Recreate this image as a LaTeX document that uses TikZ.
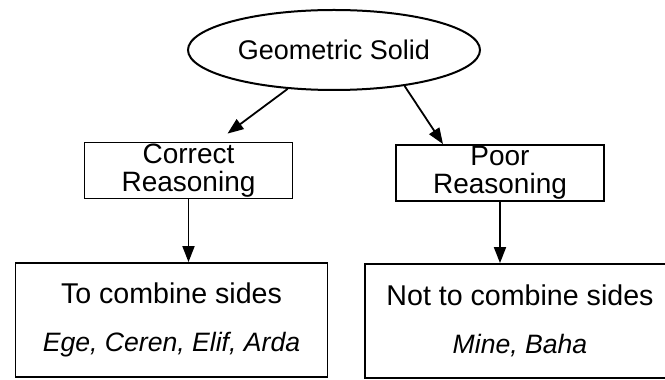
\documentclass[tikz,border=0pt]{standalone}
\usepackage{fontspec}
\setmainfont{Liberation Sans}
\usetikzlibrary{arrows.meta,positioning,shapes.geometric}
\tikzset{
  topic/.style={
    draw, ellipse, line width=1pt, inner sep=0pt,
    minimum width=146pt, minimum height=40pt,
    font=\fontsize{13.5}{14}\selectfont
  },
  judgement/.style={
    draw, rectangle, line width=.9pt, inner sep=0pt,
    minimum width=104pt, minimum height=28pt, align=center,
    font=\fontsize{14}{14}\selectfont
  },
  outcome/.style={
    draw, rectangle, line width=.9pt, inner sep=0pt,
    minimum width=156pt, minimum height=57pt, align=center,
    font=\fontsize{14.3}{24}\selectfont
  },
  flow/.style={-{Triangle[length=8pt,width=6pt]}, line width=.9pt}
}

\begin{document}
\begin{tikzpicture}[x=.5pt,y=.5pt]
  \useasboundingbox (0,0) rectangle (665,380);
  % Root
  \node[topic] (geo) at (334,330) {Geometric Solid};

  % Kind of reasoning
  \node[judgement] (cr) at (188.5,209.5) {Correct\\Reasoning};
  \node[judgement] (pr) at (500,207) {Poor\\Reasoning};

  % What the students did
  \node[outcome] (tc) at (171.5,60)
    {To combine sides\\{\fontsize{13.3}{14}\selectfont\itshape Ege, Ceren, Elif, Arda}};
  \node[outcome, minimum width=170pt] (nc) at (535,59)
    {\hspace*{-15pt}Not to combine sides\\\hspace*{-15pt}{\fontsize{13.3}{14}\selectfont\itshape Mine, Baha}};

  % Root to reasoning
  \draw[flow] (geo.220) -- ([xshift=19.5pt,yshift=4pt]cr.north);
  \draw[flow] (geo.333) -- ([xshift=-28.5pt]pr.north);
  % Reasoning to outcome
  \draw[flow] (cr.south) -- (cr.south |- tc.north);
  \draw[flow] (pr.south) -- (pr.south |- nc.north);
\end{tikzpicture}
\end{document}
